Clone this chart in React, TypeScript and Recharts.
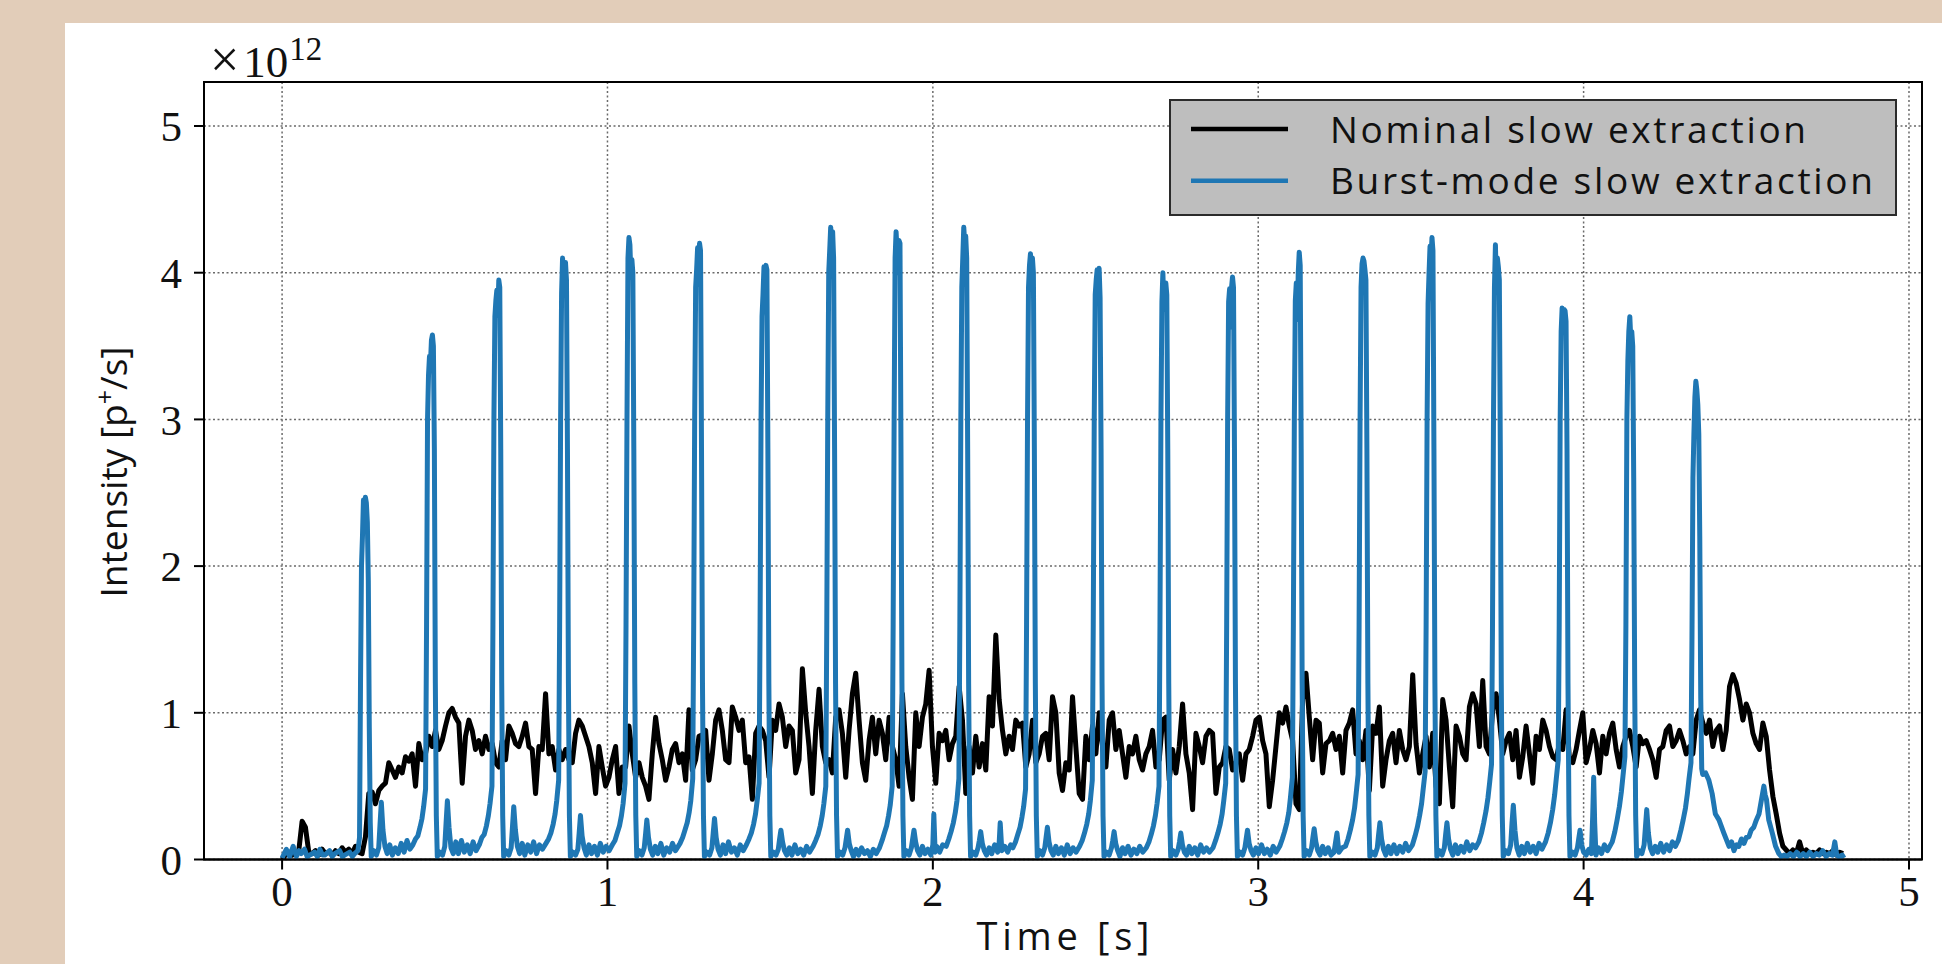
import { CartesianGrid, Legend, Line, LineChart, ReferenceArea, XAxis, YAxis } from "recharts";

// sampling step of the nominal spill trace [s]
const NOMINAL_STEP = 0.01025;

// intensity in units of 1e12 p+/s
const nominalIntensity = [
  0.0, 0.03, 0.05, 0.03, 0.04, 0.06, 0.26, 0.22, 0.05, 0.04, 0.06, 0.03, 0.07, 0.04, 0.05, 0.03, 0.06, 0.04, 0.08, 0.05,
  0.07, 0.04, 0.09, 0.05, 0.04,
  0.155, 0.45, 0.46, 0.38, 0.47, 0.5, 0.52, 0.66, 0.61, 0.56, 0.63, 0.59, 0.7, 0.67, 0.72, 0.5, 0.79, 0.68, 0.72, 0.84,
  0.77, 0.88, 0.75, 0.81, 0.91, 1.0, 1.03, 0.97, 0.93, 0.52, 0.84, 0.95, 0.88, 0.75, 0.81, 0.72, 0.84, 0.75, 0.79, 0.66,
  0.63, 0.81, 0.68, 0.91, 0.86, 0.79, 0.77, 0.84, 0.93, 0.77, 0.75, 0.45, 0.77, 0.75, 1.13, 0.72, 0.77, 0.61, 0.75, 0.68,
  0.75, 0.68, 0.66, 0.86, 0.95, 0.91, 0.84, 0.77, 0.66, 0.45, 0.77, 0.63, 0.5, 0.56, 0.68, 0.77, 0.45, 0.63, 0.63, 0.91,
  0.72, 0.56, 0.66, 0.56, 0.5, 0.41, 0.72, 0.97, 0.79, 0.68, 0.54, 0.63, 0.75, 0.79, 0.66, 0.72, 0.54, 1.02, 0.61, 0.68,
  0.84, 0.85, 0.88, 0.54, 0.72, 0.95, 1.02, 0.88, 0.68, 0.66, 1.04, 0.97, 0.88, 0.95, 0.66, 0.7, 0.41, 0.86, 0.91, 0.88,
  0.81, 0.56, 0.95, 0.88, 1.06, 0.97, 0.77,
  0.91, 0.88, 0.59, 0.68, 1.3, 1.0, 0.77, 0.45, 0.88, 1.16, 0.77, 0.66, 0.68, 0.59, 0.97, 1.02, 0.86, 0.56, 0.88, 1.13,
  1.27, 0.95, 0.66, 0.54, 0.81, 0.97, 0.72, 0.95, 0.86, 0.68, 0.97, 0.77, 0.68, 0.5, 1.13, 0.77, 0.56, 0.41, 1.0, 0.77,
  0.97, 1.06, 1.29, 0.77, 0.52, 0.86, 0.81, 0.88, 0.68, 0.79, 0.84, 1.18, 0.95, 0.45, 0.77, 0.59, 0.84, 0.63, 0.79, 0.61,
  1.11, 0.91, 1.53, 1.09, 0.88, 0.72, 0.84, 0.75, 0.95, 0.91, 0.93, 0.63, 0.72, 0.95, 0.66, 0.72, 0.84, 0.86, 0.68, 1.11,
  1.0, 0.59, 0.47, 0.66, 0.61, 1.11, 0.77, 0.45, 0.41, 0.84, 0.68, 0.91, 0.72, 1.0, 0.77, 0.63, 0.95, 1.0, 0.75, 0.88,
  0.72, 0.56, 0.77, 0.72, 0.84, 0.68, 0.61, 0.72, 0.77, 0.88, 0.63, 0.68, 0.95, 0.97, 0.54, 0.75, 0.59, 0.77, 1.06, 0.72,
  0.59, 0.34, 0.86, 0.77, 0.66, 0.84, 0.88, 0.86, 0.45, 0.63, 0.66, 0.77, 0.75, 0.61, 0.66, 0.72, 0.54, 0.72, 0.75, 0.84,
  0.95, 0.97, 0.81, 0.72, 0.36, 0.54, 0.77, 1.0, 0.93, 1.04, 0.91, 0.81, 0.38, 0.34, 1.09, 1.27,
  0.97, 0.68, 0.95, 0.93, 0.59, 0.79, 0.81, 0.86, 0.75, 0.84, 0.59, 0.88, 0.93, 1.02, 0.72, 0.81, 0.68, 0.88, 0.47, 0.91,
  0.86, 1.04, 0.5, 0.68, 0.81, 0.86, 0.66, 0.88, 0.75, 0.68, 0.77, 1.26, 0.79, 0.59, 0.72, 0.84, 0.63, 0.86, 0.5, 0.38,
  1.09, 0.95, 0.63, 0.36, 0.91, 0.84, 0.72, 0.68, 1.04, 1.13, 1.06, 0.77, 1.22, 0.77, 0.72, 1.02, 1.13, 0.95, 0.72, 0.81,
  0.86, 0.68, 0.88, 0.56, 0.7, 0.91, 0.72, 0.52, 0.84, 0.75, 0.95, 0.88, 0.77, 0.7, 0.68, 0.79, 0.75, 1.02, 0.68, 0.66,
  0.75, 0.88, 1.0, 0.66, 0.75, 0.88, 0.79, 0.59, 0.84, 0.72, 0.86, 0.93, 0.75, 0.63, 0.77, 0.84, 0.88, 0.77, 0.63, 0.84,
  0.79, 0.81, 0.75, 0.68, 0.56, 0.75, 0.77, 0.88, 0.91, 0.77, 0.81, 0.88, 0.81, 0.72, 0.77, 0.72, 0.95, 1.02, 0.93, 0.86,
  0.95, 0.77, 0.88, 0.91, 0.75, 0.88, 1.18, 1.26, 1.2, 1.09, 0.95, 1.06, 1.0, 0.86, 0.79, 0.75, 0.93, 0.84, 0.61, 0.43,
  0.31, 0.18, 0.09, 0.065, 0.04, 0.065, 0.04, 0.12, 0.04, 0.065, 0.04, 0.05, 0.04, 0.065, 0.04, 0.05,
  0.04, 0.06, 0.03, 0.05, 0.04,
];

// [time s, intensity 1e12 p+/s]
const burstModeSamples: [number, number][] = [
  [0, 0.01], [0.013, 0.07], [0.023, 0.02], [0.034, 0.09], [0.044, 0.02], [0.052, 0.06], [0.059, 0.04], [0.069, 0.07],
  [0.077, 0.02], [0.085, 0.03], [0.1, 0.05], [0.108, 0.02], [0.116, 0.07], [0.124, 0.03], [0.131, 0.03], [0.146, 0.06],
  [0.154, 0.02], [0.162, 0.04], [0.177, 0.06], [0.185, 0.02], [0.192, 0.03], [0.208, 0.05], [0.216, 0.02], [0.223, 0.04],
  [0.233, 0.06], [0.238, 0.15],
  // burst 1
  [0.241, 1.2], [0.244, 2.0], [0.247, 2.2], [0.25, 2.45], [0.253, 2.27], [0.256, 2.47], [0.259, 2.43], [0.262, 2.3], [0.265, 1.9], [0.268, 0.9], [0.271, 0.25],
  [0.274, 0.02], [0.282, 0.06], [0.29, 0.03], [0.297, 0.08], [0.301, 0.24], [0.305, 0.39], [0.31, 0.2], [0.316, 0.09], [0.323, 0.04], [0.331, 0.1], [0.339, 0.03], [0.348, 0.08], [0.357, 0.04], [0.366, 0.11], [0.375, 0.05], [0.384, 0.13], [0.393, 0.07],
  [0.402, 0.1], [0.41, 0.14], [0.417, 0.16], [0.424, 0.22], [0.43, 0.28], [0.435, 0.36], [0.441, 0.48],
  // burst 2
  [0.444, 1.6], [0.447, 3.0], [0.45, 3.3], [0.453, 3.43], [0.456, 3.38], [0.459, 3.54], [0.462, 3.575], [0.465, 3.5], [0.468, 2.8], [0.471, 1.2], [0.474, 0.3],
  [0.477, 0.02], [0.485, 0.05], [0.493, 0.03], [0.5, 0.09], [0.504, 0.25], [0.508, 0.4], [0.513, 0.22], [0.519, 0.08], [0.526, 0.04], [0.534, 0.12], [0.542, 0.04], [0.551, 0.13], [0.56, 0.05], [0.569, 0.1], [0.578, 0.04], [0.587, 0.12], [0.596, 0.06],
  [0.606, 0.1], [0.614, 0.15], [0.621, 0.17], [0.628, 0.23], [0.634, 0.3], [0.639, 0.38], [0.645, 0.5],
  // burst 3
  [0.648, 1.6], [0.651, 3.0], [0.654, 3.7], [0.657, 3.81], [0.66, 3.88], [0.663, 3.71], [0.666, 3.95], [0.669, 3.9], [0.672, 2.8], [0.675, 1.2], [0.678, 0.3],
  [0.681, 0.02], [0.689, 0.06], [0.697, 0.03], [0.704, 0.08], [0.708, 0.22], [0.712, 0.36], [0.717, 0.2], [0.723, 0.09], [0.73, 0.04], [0.738, 0.11], [0.746, 0.03], [0.755, 0.1], [0.764, 0.05], [0.773, 0.12], [0.782, 0.04], [0.791, 0.1], [0.8, 0.07],
  [0.811, 0.11], [0.819, 0.14], [0.826, 0.18], [0.833, 0.24], [0.839, 0.31], [0.844, 0.4], [0.85, 0.54],
  // burst 4
  [0.853, 1.6], [0.856, 3.0], [0.859, 3.86], [0.862, 4.1], [0.865, 3.88], [0.868, 4.07], [0.871, 4.07], [0.874, 3.95], [0.877, 2.8], [0.88, 1.2], [0.883, 0.3],
  [0.886, 0.02], [0.894, 0.05], [0.902, 0.03], [0.909, 0.07], [0.913, 0.18], [0.917, 0.3], [0.922, 0.16], [0.928, 0.08], [0.935, 0.03], [0.943, 0.1], [0.951, 0.04], [0.96, 0.09], [0.969, 0.03], [0.978, 0.11], [0.987, 0.05], [0.996, 0.09], [1.005, 0.06],
  [1.015, 0.1], [1.023, 0.13], [1.03, 0.18], [1.037, 0.23], [1.043, 0.3], [1.048, 0.38], [1.054, 0.52],
  // burst 5
  [1.057, 1.6], [1.06, 3.0], [1.063, 4.1], [1.066, 4.24], [1.069, 4.19], [1.072, 3.97], [1.075, 4.09], [1.078, 4.0], [1.081, 2.8], [1.084, 1.2], [1.087, 0.3],
  [1.09, 0.02], [1.098, 0.06], [1.106, 0.03], [1.113, 0.08], [1.117, 0.17], [1.121, 0.27], [1.126, 0.15], [1.132, 0.07], [1.139, 0.03], [1.147, 0.09], [1.155, 0.04], [1.164, 0.11], [1.173, 0.03], [1.182, 0.08], [1.191, 0.05], [1.2, 0.11], [1.209, 0.06],
  [1.223, 0.11], [1.231, 0.15], [1.238, 0.2], [1.245, 0.25], [1.251, 0.32], [1.256, 0.4], [1.262, 0.55],
  // burst 6
  [1.265, 1.6], [1.268, 3.0], [1.271, 3.9], [1.274, 4.02], [1.277, 4.17], [1.28, 4.1], [1.283, 4.2], [1.286, 4.15], [1.289, 2.8], [1.292, 1.2], [1.295, 0.3],
  [1.298, 0.02], [1.306, 0.05], [1.314, 0.03], [1.321, 0.08], [1.325, 0.18], [1.329, 0.28], [1.334, 0.15], [1.34, 0.07], [1.347, 0.03], [1.355, 0.1], [1.363, 0.04], [1.372, 0.12], [1.381, 0.05], [1.39, 0.08], [1.399, 0.03], [1.408, 0.1], [1.417, 0.06],
  [1.427, 0.1], [1.435, 0.14], [1.442, 0.18], [1.449, 0.24], [1.455, 0.31], [1.46, 0.4], [1.466, 0.52],
  // burst 7
  [1.469, 1.6], [1.472, 3.0], [1.475, 3.7], [1.478, 3.85], [1.481, 4.04], [1.484, 4.0], [1.487, 4.05], [1.49, 4.02], [1.493, 2.8], [1.496, 1.2], [1.499, 0.3],
  [1.502, 0.02], [1.51, 0.05], [1.518, 0.03], [1.525, 0.07], [1.529, 0.14], [1.533, 0.2], [1.538, 0.12], [1.544, 0.06], [1.551, 0.03], [1.559, 0.08], [1.567, 0.03], [1.576, 0.1], [1.585, 0.04], [1.594, 0.07], [1.603, 0.03], [1.612, 0.09], [1.621, 0.05],
  [1.632, 0.09], [1.64, 0.13], [1.647, 0.17], [1.654, 0.23], [1.66, 0.3], [1.665, 0.38], [1.671, 0.5],
  // burst 8
  [1.674, 1.6], [1.677, 3.0], [1.68, 4.0], [1.683, 4.15], [1.686, 4.31], [1.689, 4.2], [1.692, 4.28], [1.695, 4.1], [1.698, 2.8], [1.701, 1.2], [1.704, 0.3],
  [1.707, 0.02], [1.715, 0.05], [1.723, 0.03], [1.73, 0.08], [1.734, 0.14], [1.738, 0.2], [1.743, 0.11], [1.749, 0.06], [1.756, 0.02], [1.764, 0.07], [1.772, 0.03], [1.781, 0.08], [1.79, 0.04], [1.799, 0.06], [1.808, 0.02], [1.817, 0.07], [1.826, 0.04],
  [1.836, 0.08], [1.844, 0.13], [1.851, 0.18], [1.858, 0.23], [1.864, 0.3], [1.869, 0.37], [1.875, 0.5],
  // burst 9
  [1.878, 1.6], [1.881, 3.0], [1.884, 4.1], [1.887, 4.28], [1.89, 4.15], [1.893, 4.0], [1.896, 4.22], [1.899, 4.2], [1.902, 2.8], [1.905, 1.2], [1.908, 0.3],
  [1.911, 0.02], [1.919, 0.06], [1.927, 0.03], [1.934, 0.08], [1.938, 0.14], [1.942, 0.2], [1.947, 0.12], [1.953, 0.06], [1.96, 0.03], [1.968, 0.09], [1.976, 0.04], [1.985, 0.07], [1.994, 0.03], [2.0, 0.1], [2.003, 0.31], [2.007, 0.05], [2.012, 0.09], [2.021, 0.05], [2.03, 0.1],
  [2.041, 0.09], [2.049, 0.14], [2.056, 0.19], [2.063, 0.25], [2.069, 0.32], [2.074, 0.4], [2.08, 0.55],
  // burst 10
  [2.083, 1.6], [2.086, 3.0], [2.089, 3.9], [2.092, 4.1], [2.095, 4.31], [2.098, 4.2], [2.101, 4.25], [2.104, 4.1], [2.107, 2.8], [2.11, 1.2], [2.113, 0.3],
  [2.116, 0.02], [2.124, 0.05], [2.132, 0.03], [2.139, 0.08], [2.143, 0.13], [2.147, 0.19], [2.152, 0.11], [2.158, 0.06], [2.165, 0.03], [2.173, 0.08], [2.181, 0.04], [2.19, 0.1], [2.199, 0.05], [2.204, 0.12], [2.207, 0.25], [2.212, 0.06], [2.221, 0.09], [2.23, 0.05], [2.239, 0.1],
  [2.246, 0.08], [2.254, 0.12], [2.261, 0.17], [2.268, 0.22], [2.274, 0.29], [2.279, 0.36], [2.285, 0.48],
  // burst 11
  [2.288, 1.6], [2.291, 3.0], [2.294, 3.9], [2.297, 4.05], [2.3, 4.13], [2.303, 4.05], [2.306, 4.1], [2.309, 4.0], [2.312, 2.8], [2.315, 1.2], [2.318, 0.3],
  [2.321, 0.02], [2.329, 0.06], [2.337, 0.03], [2.344, 0.08], [2.348, 0.15], [2.352, 0.22], [2.357, 0.12], [2.363, 0.06], [2.37, 0.03], [2.378, 0.09], [2.386, 0.04], [2.395, 0.08], [2.404, 0.03], [2.413, 0.1], [2.422, 0.04], [2.431, 0.08], [2.44, 0.05],
  [2.451, 0.09], [2.459, 0.13], [2.466, 0.18], [2.473, 0.24], [2.479, 0.31], [2.484, 0.4], [2.49, 0.54],
  // burst 12
  [2.493, 1.6], [2.496, 3.0], [2.499, 3.85], [2.502, 3.95], [2.505, 4.02], [2.508, 3.9], [2.511, 4.03], [2.514, 3.83], [2.517, 2.8], [2.52, 1.2], [2.523, 0.3],
  [2.526, 0.02], [2.534, 0.05], [2.542, 0.03], [2.549, 0.08], [2.553, 0.13], [2.557, 0.19], [2.562, 0.11], [2.568, 0.06], [2.575, 0.02], [2.583, 0.08], [2.591, 0.04], [2.6, 0.09], [2.609, 0.03], [2.618, 0.07], [2.627, 0.04], [2.636, 0.09], [2.645, 0.05],
  [2.656, 0.08], [2.664, 0.12], [2.671, 0.17], [2.678, 0.23], [2.684, 0.3], [2.689, 0.38], [2.695, 0.5],
  // burst 13
  [2.698, 1.6], [2.701, 3.0], [2.704, 3.8], [2.707, 4.0], [2.71, 3.75], [2.713, 3.93], [2.716, 3.93], [2.719, 3.85], [2.722, 2.8], [2.725, 1.2], [2.728, 0.3],
  [2.731, 0.02], [2.739, 0.06], [2.747, 0.03], [2.754, 0.07], [2.758, 0.12], [2.762, 0.18], [2.767, 0.1], [2.773, 0.05], [2.78, 0.03], [2.788, 0.09], [2.796, 0.04], [2.805, 0.08], [2.814, 0.03], [2.823, 0.1], [2.832, 0.05], [2.841, 0.08], [2.85, 0.05],
  [2.861, 0.08], [2.869, 0.13], [2.876, 0.18], [2.883, 0.24], [2.889, 0.31], [2.894, 0.4], [2.9, 0.52],
  // burst 14
  [2.903, 1.6], [2.906, 3.0], [2.909, 3.8], [2.912, 3.89], [2.915, 3.63], [2.918, 3.9], [2.921, 3.97], [2.924, 3.9], [2.927, 2.8], [2.93, 1.2], [2.933, 0.3],
  [2.936, 0.02], [2.944, 0.05], [2.952, 0.03], [2.959, 0.08], [2.963, 0.14], [2.967, 0.2], [2.972, 0.11], [2.978, 0.06], [2.985, 0.03], [2.993, 0.08], [3.001, 0.04], [3.01, 0.1], [3.019, 0.04], [3.028, 0.07], [3.037, 0.03], [3.046, 0.09], [3.055, 0.05],
  [3.066, 0.09], [3.074, 0.14], [3.081, 0.19], [3.088, 0.25], [3.094, 0.32], [3.099, 0.42], [3.105, 0.56],
  // burst 15
  [3.108, 1.6], [3.111, 3.0], [3.114, 3.81], [3.117, 3.93], [3.12, 3.68], [3.123, 4.0], [3.126, 4.14], [3.129, 4.05], [3.132, 2.8], [3.135, 1.2], [3.138, 0.3],
  [3.141, 0.02], [3.149, 0.06], [3.157, 0.03], [3.164, 0.08], [3.168, 0.15], [3.172, 0.21], [3.177, 0.12], [3.183, 0.06], [3.19, 0.03], [3.198, 0.09], [3.206, 0.04], [3.215, 0.08], [3.224, 0.03], [3.233, 0.05], [3.242, 0.18], [3.248, 0.05], [3.258, 0.08],
  [3.268, 0.09], [3.276, 0.14], [3.283, 0.2], [3.29, 0.27], [3.296, 0.35], [3.301, 0.45], [3.307, 0.58],
  // burst 16
  [3.31, 1.6], [3.313, 3.0], [3.316, 3.9], [3.319, 4.06], [3.322, 4.1], [3.325, 4.08], [3.328, 4.02], [3.331, 3.95], [3.334, 2.8], [3.337, 1.2], [3.34, 0.3],
  [3.343, 0.02], [3.351, 0.05], [3.359, 0.03], [3.366, 0.08], [3.37, 0.17], [3.374, 0.25], [3.379, 0.14], [3.385, 0.07], [3.392, 0.03], [3.4, 0.09], [3.408, 0.04], [3.417, 0.1], [3.426, 0.04], [3.435, 0.09], [3.444, 0.05], [3.453, 0.11], [3.462, 0.06],
  [3.474, 0.1], [3.482, 0.16], [3.489, 0.22], [3.496, 0.3], [3.502, 0.38], [3.507, 0.48], [3.513, 0.6],
  // burst 17
  [3.516, 1.6], [3.519, 3.0], [3.522, 3.79], [3.525, 4.0], [3.528, 4.18], [3.531, 4.1], [3.534, 4.24], [3.537, 4.15], [3.54, 2.8], [3.543, 1.2], [3.546, 0.3],
  [3.549, 0.02], [3.557, 0.06], [3.565, 0.03], [3.572, 0.08], [3.576, 0.17], [3.58, 0.25], [3.585, 0.14], [3.591, 0.07], [3.598, 0.03], [3.606, 0.1], [3.614, 0.04], [3.623, 0.09], [3.632, 0.05], [3.641, 0.12], [3.65, 0.06], [3.659, 0.1], [3.668, 0.08],
  [3.678, 0.12], [3.686, 0.18], [3.693, 0.25], [3.7, 0.33], [3.706, 0.42], [3.711, 0.52], [3.717, 0.65],
  // burst 18
  [3.72, 1.6], [3.723, 3.0], [3.726, 3.9], [3.729, 4.19], [3.732, 3.9], [3.735, 4.1], [3.738, 4.04], [3.741, 3.95], [3.744, 2.8], [3.747, 1.2], [3.75, 0.3],
  [3.753, 0.02], [3.761, 0.06], [3.769, 0.04], [3.776, 0.1], [3.78, 0.25], [3.784, 0.37], [3.789, 0.2], [3.795, 0.08], [3.802, 0.03], [3.81, 0.09], [3.818, 0.04], [3.827, 0.11], [3.836, 0.05], [3.845, 0.09], [3.854, 0.04], [3.863, 0.11], [3.872, 0.07],
  [3.883, 0.12], [3.891, 0.18], [3.898, 0.25], [3.905, 0.34], [3.911, 0.44], [3.916, 0.55], [3.922, 0.68],
  // burst 19
  [3.925, 1.6], [3.928, 3.0], [3.931, 3.6], [3.934, 3.76], [3.937, 3.6], [3.94, 3.75], [3.943, 3.74], [3.946, 3.67], [3.949, 2.8], [3.952, 1.2], [3.955, 0.3],
  [3.958, 0.02], [3.966, 0.05], [3.974, 0.03], [3.981, 0.08], [3.985, 0.14], [3.989, 0.2], [3.994, 0.1], [4.0, 0.05], [4.008, 0.03], [4.016, 0.07], [4.024, 0.04], [4.028, 0.3], [4.031, 0.56], [4.034, 0.25], [4.038, 0.03], [4.046, 0.08], [4.055, 0.04], [4.064, 0.1], [4.073, 0.06],
  [4.088, 0.12], [4.096, 0.19], [4.103, 0.27], [4.11, 0.36], [4.116, 0.46], [4.121, 0.57], [4.127, 0.7],
  // burst 20
  [4.13, 1.6], [4.133, 3.0], [4.136, 3.4], [4.139, 3.6], [4.142, 3.7], [4.145, 3.55], [4.148, 3.6], [4.151, 3.5], [4.154, 2.6], [4.157, 1.2], [4.16, 0.3],
  [4.163, 0.02], [4.171, 0.06], [4.179, 0.04], [4.186, 0.1], [4.19, 0.22], [4.194, 0.34], [4.199, 0.18], [4.205, 0.08], [4.212, 0.04], [4.22, 0.09], [4.228, 0.05], [4.237, 0.11], [4.246, 0.05], [4.255, 0.1], [4.264, 0.06], [4.273, 0.12], [4.282, 0.09],
  [4.291, 0.13], [4.299, 0.2], [4.306, 0.27], [4.313, 0.35], [4.319, 0.45], [4.324, 0.55], [4.33, 0.66],
  // burst 21
  [4.333, 1.5], [4.336, 2.6], [4.339, 2.9], [4.342, 3.15], [4.345, 3.26], [4.348, 3.2], [4.351, 3.1], [4.354, 2.9], [4.357, 2.2], [4.36, 1.1], [4.363, 0.62],
  [4.366, 0.58], [4.375, 0.59], [4.385, 0.54], [4.395, 0.45], [4.405, 0.31], [4.416, 0.27], [4.431, 0.18], [4.447, 0.09], [4.455, 0.12], [4.462, 0.06], [4.47, 0.1], [4.477, 0.09], [4.485, 0.14], [4.493, 0.11], [4.5, 0.15], [4.508, 0.155], [4.515, 0.2], [4.523, 0.22], [4.531, 0.27], [4.539, 0.31], [4.546, 0.4], [4.554, 0.5], [4.558, 0.44], [4.562, 0.41], [4.569, 0.27], [4.575, 0.22], [4.58, 0.18], [4.59, 0.09], [4.6, 0.04],
  [4.608, 0.02], [4.616, 0.03], [4.625, 0.02], [4.635, 0.04], [4.645, 0.02], [4.655, 0.05], [4.665, 0.02], [4.675, 0.04], [4.685, 0.02], [4.695, 0.05], [4.705, 0.02], [4.715, 0.04], [4.725, 0.03], [4.735, 0.06], [4.745, 0.02], [4.755, 0.04], [4.765, 0.03], [4.772, 0.12], [4.778, 0.03], [4.785, 0.02], [4.795, 0.03], [4.8, 0.01],
];

const timeTicks = [0, 1, 2, 3, 4, 5];
const intensityTicks = [0, 1, 2, 3, 4, 5];
const seriesNames = ["Nominal slow extraction", "Burst-mode slow extraction"];
const seriesColors = ["#000000", "#1f77b4"];

const nominalData = nominalIntensity.map((v, i) => ({ t: +(i * NOMINAL_STEP).toFixed(5), v }));
const burstData = burstModeSamples.map(([t, v]) => ({ t, v }));

const serif = "'Liberation Serif', 'DejaVu Serif', serif";
const sans = "'Open Sans', Lato, sans-serif";
const LINE_W = 5;

const LegendBox = () => (
  <svg width={728} height={118} style={{ display: "block" }}>
    <rect x={1} y={1} width={726} height={115} fill="#bebebe" stroke="#2b2b2b" strokeWidth={2} />
    {seriesNames.map((name, i) => (
      <g key={name}>
        <line x1={22} x2={119} y1={30 + i * 51.7} y2={30 + i * 51.7} stroke={seriesColors[i]} strokeWidth={4.4} />
        <text
          x={161}
          y={43.5 + i * 51}
          style={{ fontFamily: sans, fontSize: 37 }}
          fill="#111"
          textLength={i === 0 ? 476 : 543}
          lengthAdjust="spacing"
        >
          {name}
        </text>
      </g>
    ))}
  </svg>
);

const TimeLabel = () => (
  <text
    x={1063}
    y={950}
    textAnchor="middle"
    style={{ fontFamily: sans, fontSize: 38 }}
    fill="#111"
    textLength={173}
    lengthAdjust="spacing"
  >
    Time [s]
  </text>
);

const IntensityLabel = () => (
  <g>
    <text
      transform="translate(127, 472) rotate(-90)"
      textAnchor="middle"
      style={{ fontFamily: sans, fontSize: 37 }}
      fill="#111"
      textLength={251}
      lengthAdjust="spacingAndGlyphs"
    >
      Intensity [p
      <tspan dy={-13} style={{ fontSize: 25 }}>+</tspan>
      <tspan dy={13}>/s]</tspan>
    </text>
    <text x={210} y={77} fill="#111" style={{ fontFamily: serif, fontSize: 45 }}>
      <tspan style={{ fontSize: 52 }}>×</tspan>
      <tspan dx={4}>10</tspan>
      <tspan dy={-17} dx={1} style={{ fontSize: 33 }}>12</tspan>
    </text>
  </g>
);

export default function App() {
  return (
    <div style={{ position: "relative", width: 1942, height: 964, background: "#e2cdb9", overflow: "hidden" }}>
      <style>{`body { margin: 0; }`}</style>
      <div style={{ position: "absolute", left: 65, top: 23, right: 0, bottom: 0, background: "#ffffff" }} />
      <div style={{ position: "absolute", left: 0, top: 0 }}>
        <LineChart width={1942} height={964} margin={{ top: 82, right: 20, bottom: 44.5, left: 144 }}>
          <CartesianGrid stroke="#6a6a6a" strokeWidth={1.5} strokeDasharray="2 2.5" />
          <XAxis
            type="number"
            dataKey="t"
            domain={[-0.24, 5.04]}
            ticks={timeTicks}
            interval={0}
            allowDataOverflow
            height={60}
            tickSize={10}
            tickMargin={6}
            axisLine={{ stroke: "#000", strokeWidth: 2 }}
            tickLine={{ stroke: "#000", strokeWidth: 2 }}
            tick={{ fontFamily: serif, fontSize: 43, fill: "#111" }}
            label={<TimeLabel />}
          />
          <YAxis
            type="number"
            domain={[0, 5.3]}
            ticks={intensityTicks}
            interval={0}
            allowDataOverflow
            width={60}
            tickSize={10}
            tickMargin={12}
            axisLine={{ stroke: "#000", strokeWidth: 2 }}
            tickLine={{ stroke: "#000", strokeWidth: 2 }}
            tick={{ fontFamily: serif, fontSize: 43, fill: "#111" }}
            label={<IntensityLabel />}
          />
          <ReferenceArea x1={-0.24} x2={5.04} y1={0} y2={5.3} fill="none" stroke="#000" strokeWidth={2} ifOverflow="visible" />
          <Line
            data={nominalData}
            dataKey="v"
            name={seriesNames[0]}
            type="linear"
            stroke={seriesColors[0]}
            strokeWidth={LINE_W}
            strokeLinejoin="round"
            dot={false}
            isAnimationActive={false}
          />
          <Line
            data={burstData}
            dataKey="v"
            name={seriesNames[1]}
            type="linear"
            stroke={seriesColors[1]}
            strokeWidth={LINE_W}
            strokeLinejoin="round"
            dot={false}
            isAnimationActive={false}
          />
          <Legend
            layout="vertical"
            align="center"
            verticalAlign="middle"
            content={<LegendBox />}
            wrapperStyle={{ left: 1169, top: 99, width: 728, height: 118 }}
          />
        </LineChart>
      </div>
    </div>
  );
}
